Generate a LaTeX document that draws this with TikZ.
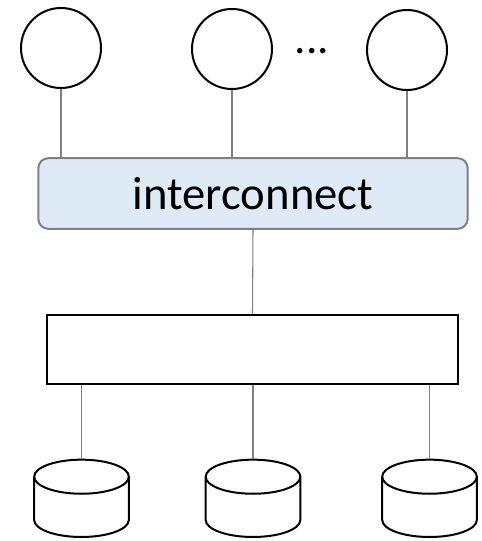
\documentclass[tikz,border=0pt]{standalone}
\usepackage{fontspec}
\setmainfont{Carlito}
\usetikzlibrary{shapes.geometric}
\definecolor{linkgray}{RGB}{128,128,128}
\definecolor{icfill}{RGB}{222,235,247}

\begin{document}
\begin{tikzpicture}[x=0.75pt,y=-0.75pt]
  \tikzset{
    host/.style={circle,draw=black,line width=1.5pt,minimum size=60pt,inner sep=0pt},
    link/.style={draw=linkgray,line width=0.8pt},
    disk/.style={cylinder,shape border rotate=90,draw=black,line width=1.5pt,
      minimum width=71pt,minimum height=58pt,aspect=0.36,inner xsep=35.5pt,inner ysep=0pt,
      anchor=bottom}
  }
  \useasboundingbox (0,0) rectangle (481,541);
  % processors
  \node[host] (h1) at (61,48) {};
  \node[host] (h2) at (232,49) {};
  \node[host] (h3) at (407,50) {};
  \node[font=\fontsize{34}{34}\selectfont] (dots) at (312,51) {...};
  % network
  \node[draw=linkgray,line width=1.5pt,fill=icfill,rounded corners=7.5pt,
    minimum width=322pt,minimum height=53pt,inner sep=0pt,
    font=\fontsize{35}{35}\selectfont] (ic) at (253,193.5) {interconnect};
  \node[draw=black,line width=1.5pt,minimum width=308pt,minimum height=52pt,
    inner sep=0pt] (box) at (252.5,349.5) {};
  % disks
  \node[disk] (d1) at (81.5,538) {};
  \node[disk] (d2) at (253,538) {};
  \node[disk] (d3) at (429.5,538) {};
  % connectors
  \draw[link] (h1.south) -- (h1.south |- ic.north);
  \draw[link] (h2.south) -- (h2.south |- ic.north);
  \draw[link] (h3.south) -- (h3.south |- ic.north);
  \draw[link] (ic.south) -- (box.north);
  \draw[link] (box.south -| d1.top) -- (d1.top);
  \draw[link] (box.south -| d2.top) -- (d2.top);
  \draw[link] (box.south -| d3.top) -- (d3.top);
\end{tikzpicture}
\end{document}
